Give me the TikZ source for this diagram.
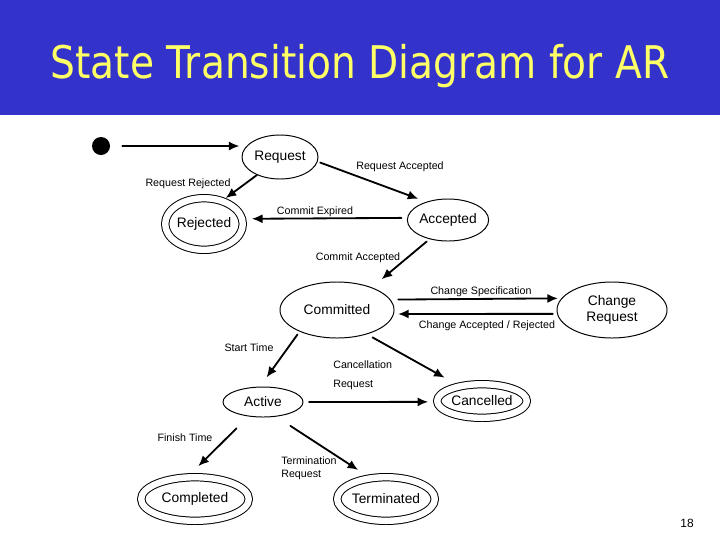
\documentclass[tikz,border=0pt]{standalone}
\usepackage{fontspec}
\setmainfont{Liberation Sans}
\newfontfamily\titlefont{DejaVu Sans}
\usetikzlibrary{arrows.meta,shapes.geometric}
\definecolor{barblue}{RGB}{51,51,204}
\definecolor{titleyellow}{RGB}{255,255,102}
\tikzset{
  st/.style={ellipse,draw,line width=0.7pt,inner sep=0pt,font=\fontsize{9.8}{11.5}\selectfont},
  fin/.style={st,double,double distance=0.16cm,outer sep=0.08cm+0.7pt},
  tr/.style={line width=1.3pt,-{Latex[length=7.5pt,width=6.5pt]}},
  lbl/.style={inner sep=0pt,font=\fontsize{7.6}{9.2}\selectfont}
}
\begin{document}
\begin{tikzpicture}[x=0.025cm,y=-0.025cm,line cap=round,line join=round]
  \useasboundingbox (0,0) rectangle (720,540);
  \fill[barblue] (0,0) rectangle (720,115);
  \node[anchor=base,inner sep=0pt,xscale=0.87,text=titleyellow,font=\titlefont\fontsize{32}{36}\selectfont] (title) at (360,78) {State Transition Diagram for AR};

  \node[circle,fill,inner sep=0pt,minimum size=0.45cm] (start) at (101,146) {};
  \node[st,minimum width=1.9cm,minimum height=1.1cm] (req) at (280,157) {Request};
  \node[fin,minimum width=1.94cm,minimum height=1.29cm] (rej) at (204,224) {Rejected};
  \node[st,minimum width=1.85cm,minimum height=1.05cm] (acc) at (448,220) {Accepted};
  \node[st,minimum width=2.85cm,minimum height=1.4cm] (com) at (337,310) {Committed};
  \node[st,align=center,minimum width=2.75cm,minimum height=1.4cm] (cr) at (612,310) {Change\\Request};
  \node[st,minimum width=2.0cm,minimum height=0.75cm] (act) at (263,402) {Active};
  \node[fin,minimum width=2.24cm,minimum height=0.84cm] (can) at (482,401) {Cancelled};
  \node[fin,minimum width=2.69cm,minimum height=1.09cm] (cmp) at (195,499) {Completed};
  \node[fin,minimum width=2.44cm,minimum height=1.09cm] (ter) at (386,499) {Terminated};

  \draw[tr,shorten <=8.5pt,shorten >=1.5pt] (start.east) -- (start.east -| req.west);
  \draw[tr] (req.218) -- (rej.50);
  \draw[tr,shorten <=2pt,shorten >=6pt] (req.-7) -- (acc.140);
  \draw[tr,shorten <=4pt,shorten >=4pt] (acc.177) -- (rej.7);
  \draw[tr,shorten <=2.5pt,shorten >=9pt] (acc.226) -- (com.33);
  \draw[tr,shorten <=5.5pt,shorten >=2.5pt] (com.11) -- (cr.167);
  \draw[tr,shorten <=3pt,shorten >=3pt] (cr.184) -- (com.-4);
  \draw[tr,shorten <=2.5pt,shorten >=8pt] (com.210) -- (act.101);
  \draw[tr,shorten <=4.5pt,shorten >=8.5pt] (com.-39) -- (can.147);
  \draw[tr,shorten <=4pt,shorten >=3.5pt] (act.0) -- (can.181);
  \draw[tr,shorten <=12pt,shorten >=7pt] (act.225) -- (cmp.98);
  \draw[tr,shorten <=12pt,shorten >=6.5pt] (act.-48) -- (ter.130);

  \node[lbl] (lreqacc) at (400,167) {Request Accepted};
  \node[lbl] (lreqrej) at (188,184) {Request Rejected};
  \node[lbl] (lcomexp) at (315,212) {Commit Expired};
  \node[lbl] (lcomacc) at (358,258) {Commit Accepted};
  \node[lbl] (lchgspec) at (481,292) {Change Specification};
  \node[lbl] (lchgacc) at (487,326) {Change Accepted / Rejected};
  \node[lbl] (lstart) at (249,348) {Start Time};
  \node[lbl,anchor=west] (lcanc) at (333,365) {Cancellation};
  \node[lbl,anchor=west] (lcanr) at (333,385) {Request};
  \node[lbl] (lfinish) at (185,438) {Finish Time};
  \node[lbl,anchor=west,align=left] (lterm) at (281,468.5) {Termination\\Request};
  \node[inner sep=0pt,font=\fontsize{8.5}{10}\selectfont] (pageno) at (687,523) {18};
\end{tikzpicture}
\end{document}
